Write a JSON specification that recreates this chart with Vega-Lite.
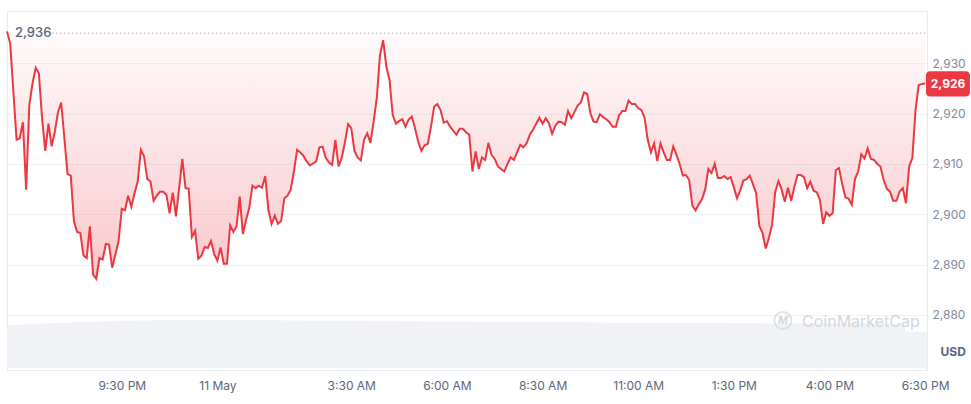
{
"$schema": "https://vega.github.io/schema/vega-lite/v6.json",
"width": 920, "height": 359,
"autosize": {"type": "none"},
"padding": {"left": 7, "top": 11, "right": 44, "bottom": 34},
"background": "white",
"config": {"view": {"stroke": "#e6e9ee"}, "font": "Inter"},
"datasets": {
"one": [{}],
"vol": [
{"t":"2024-05-10T18:30","v":10.75},{"t":"2024-05-10T19:30","v":11.2},{"t":"2024-05-10T20:30","v":11.6},{"t":"2024-05-10T21:30","v":11.9},{"t":"2024-05-10T22:30","v":12.0},{"t":"2024-05-10T23:30","v":12.0},{"t":"2024-05-11T00:30","v":12.0},{"t":"2024-05-11T01:30","v":12.0},{"t":"2024-05-11T02:30","v":11.9},{"t":"2024-05-11T03:30","v":11.9},{"t":"2024-05-11T04:30","v":11.8},{"t":"2024-05-11T05:30","v":11.7},{"t":"2024-05-11T06:30","v":11.7},{"t":"2024-05-11T07:30","v":11.6},{"t":"2024-05-11T08:30","v":11.6},{"t":"2024-05-11T09:30","v":11.5},{"t":"2024-05-11T10:30","v":11.4},{"t":"2024-05-11T11:30","v":11.4},{"t":"2024-05-11T12:30","v":11.4},{"t":"2024-05-11T13:30","v":11.3},{"t":"2024-05-11T14:30","v":11.2},{"t":"2024-05-11T15:30","v":11.2},{"t":"2024-05-11T16:30","v":11.2},{"t":"2024-05-11T17:30","v":11.2},{"t":"2024-05-11T17:55","v":11.2},{"t":"2024-05-11T18:00","v":9.15},{"t":"2024-05-11T18:33","v":9.15}
],
"price": [
{"t":"2024-05-10T18:30","p":2936.3},{"t":"2024-05-10T18:35","p":2934.0},{"t":"2024-05-10T18:40","p":2924.4},{"t":"2024-05-10T18:45","p":2914.8},{"t":"2024-05-10T18:50","p":2915.1},{"t":"2024-05-10T18:55","p":2918.3},
{"t":"2024-05-10T19:00","p":2904.9},{"t":"2024-05-10T19:05","p":2921.7},{"t":"2024-05-10T19:10","p":2926.0},{"t":"2024-05-10T19:15","p":2929.1},{"t":"2024-05-10T19:20","p":2928.0},{"t":"2024-05-10T19:25","p":2919.1},{"t":"2024-05-10T19:30","p":2912.6},{"t":"2024-05-10T19:35","p":2918.0},{"t":"2024-05-10T19:40","p":2913.5},{"t":"2024-05-10T19:45","p":2916.4},{"t":"2024-05-10T19:50","p":2920.3},{"t":"2024-05-10T19:55","p":2922.2},
{"t":"2024-05-10T20:00","p":2915.1},{"t":"2024-05-10T20:05","p":2908.0},{"t":"2024-05-10T20:10","p":2907.7},{"t":"2024-05-10T20:15","p":2898.6},{"t":"2024-05-10T20:20","p":2896.5},{"t":"2024-05-10T20:25","p":2896.3},{"t":"2024-05-10T20:30","p":2891.8},{"t":"2024-05-10T20:35","p":2891.3},{"t":"2024-05-10T20:40","p":2897.6},{"t":"2024-05-10T20:45","p":2888.0},{"t":"2024-05-10T20:50","p":2887.2},{"t":"2024-05-10T20:55","p":2891.3},
{"t":"2024-05-10T21:00","p":2891.0},{"t":"2024-05-10T21:05","p":2894.1},{"t":"2024-05-10T21:10","p":2894.0},{"t":"2024-05-10T21:15","p":2889.4},{"t":"2024-05-10T21:20","p":2892.0},{"t":"2024-05-10T21:25","p":2894.7},{"t":"2024-05-10T21:30","p":2901.1},{"t":"2024-05-10T21:35","p":2900.8},{"t":"2024-05-10T21:40","p":2903.7},{"t":"2024-05-10T21:45","p":2901.5},{"t":"2024-05-10T21:50","p":2904.2},{"t":"2024-05-10T21:55","p":2906.5},
{"t":"2024-05-10T22:00","p":2912.8},{"t":"2024-05-10T22:05","p":2911.5},{"t":"2024-05-10T22:10","p":2907.0},{"t":"2024-05-10T22:15","p":2906.5},{"t":"2024-05-10T22:20","p":2902.7},{"t":"2024-05-10T22:25","p":2903.7},{"t":"2024-05-10T22:30","p":2904.5},{"t":"2024-05-10T22:35","p":2904.5},{"t":"2024-05-10T22:40","p":2903.9},{"t":"2024-05-10T22:45","p":2900.2},{"t":"2024-05-10T22:50","p":2904.3},{"t":"2024-05-10T22:55","p":2899.6},
{"t":"2024-05-10T23:00","p":2905.2},{"t":"2024-05-10T23:05","p":2911.0},{"t":"2024-05-10T23:10","p":2905.2},{"t":"2024-05-10T23:15","p":2905.1},{"t":"2024-05-10T23:20","p":2895.5},{"t":"2024-05-10T23:25","p":2896.7},{"t":"2024-05-10T23:30","p":2891.2},{"t":"2024-05-10T23:35","p":2891.8},{"t":"2024-05-10T23:40","p":2893.5},{"t":"2024-05-10T23:45","p":2893.3},{"t":"2024-05-10T23:50","p":2894.7},{"t":"2024-05-10T23:55","p":2892.1},
{"t":"2024-05-11T00:00","p":2890.8},{"t":"2024-05-11T00:05","p":2893.4},{"t":"2024-05-11T00:10","p":2890.2},{"t":"2024-05-11T00:15","p":2890.2},{"t":"2024-05-11T00:20","p":2897.8},{"t":"2024-05-11T00:25","p":2896.5},{"t":"2024-05-11T00:30","p":2897.6},{"t":"2024-05-11T00:35","p":2903.5},{"t":"2024-05-11T00:40","p":2896.1},{"t":"2024-05-11T00:45","p":2898.9},{"t":"2024-05-11T00:50","p":2901.3},{"t":"2024-05-11T00:55","p":2905.7},
{"t":"2024-05-11T01:00","p":2905.2},{"t":"2024-05-11T01:05","p":2905.7},{"t":"2024-05-11T01:10","p":2905.3},{"t":"2024-05-11T01:15","p":2907.6},{"t":"2024-05-11T01:20","p":2900.9},{"t":"2024-05-11T01:25","p":2898.1},{"t":"2024-05-11T01:30","p":2899.7},{"t":"2024-05-11T01:35","p":2898.1},{"t":"2024-05-11T01:40","p":2898.7},{"t":"2024-05-11T01:45","p":2903.2},{"t":"2024-05-11T01:50","p":2903.7},{"t":"2024-05-11T01:55","p":2904.9},
{"t":"2024-05-11T02:00","p":2908.5},{"t":"2024-05-11T02:05","p":2912.8},{"t":"2024-05-11T02:10","p":2912.3},{"t":"2024-05-11T02:15","p":2911.6},{"t":"2024-05-11T02:20","p":2910.5},{"t":"2024-05-11T02:25","p":2909.7},{"t":"2024-05-11T02:35","p":2910.5},{"t":"2024-05-11T02:40","p":2913.3},{"t":"2024-05-11T02:45","p":2913.4},{"t":"2024-05-11T02:50","p":2911.2},{"t":"2024-05-11T02:55","p":2910.3},
{"t":"2024-05-11T03:00","p":2909.8},{"t":"2024-05-11T03:05","p":2914.8},{"t":"2024-05-11T03:10","p":2909.5},{"t":"2024-05-11T03:15","p":2911.2},{"t":"2024-05-11T03:20","p":2914.3},{"t":"2024-05-11T03:25","p":2917.9},{"t":"2024-05-11T03:30","p":2917.1},{"t":"2024-05-11T03:35","p":2912.6},{"t":"2024-05-11T03:40","p":2911.3},{"t":"2024-05-11T03:45","p":2910.7},{"t":"2024-05-11T03:50","p":2914.8},{"t":"2024-05-11T03:55","p":2916.1},
{"t":"2024-05-11T04:00","p":2914.2},{"t":"2024-05-11T04:05","p":2918.4},{"t":"2024-05-11T04:10","p":2923.1},{"t":"2024-05-11T04:15","p":2931.6},{"t":"2024-05-11T04:20","p":2934.6},{"t":"2024-05-11T04:25","p":2929.3},{"t":"2024-05-11T04:30","p":2926.7},{"t":"2024-05-11T04:35","p":2919.7},{"t":"2024-05-11T04:40","p":2918.0},{"t":"2024-05-11T04:45","p":2918.5},{"t":"2024-05-11T04:50","p":2918.9},{"t":"2024-05-11T04:55","p":2917.4},
{"t":"2024-05-11T05:00","p":2918.8},{"t":"2024-05-11T05:05","p":2919.4},{"t":"2024-05-11T05:10","p":2917.1},{"t":"2024-05-11T05:15","p":2914.4},{"t":"2024-05-11T05:20","p":2912.6},{"t":"2024-05-11T05:25","p":2913.7},{"t":"2024-05-11T05:30","p":2914.0},{"t":"2024-05-11T05:35","p":2917.4},{"t":"2024-05-11T05:40","p":2921.4},{"t":"2024-05-11T05:45","p":2921.9},{"t":"2024-05-11T05:50","p":2920.7},{"t":"2024-05-11T05:55","p":2918.2},
{"t":"2024-05-11T06:00","p":2918.5},{"t":"2024-05-11T06:05","p":2917.4},{"t":"2024-05-11T06:10","p":2916.6},{"t":"2024-05-11T06:15","p":2915.8},{"t":"2024-05-11T06:20","p":2917.0},{"t":"2024-05-11T06:25","p":2917.0},{"t":"2024-05-11T06:30","p":2916.3},{"t":"2024-05-11T06:35","p":2915.8},{"t":"2024-05-11T06:40","p":2908.5},{"t":"2024-05-11T06:45","p":2912.5},{"t":"2024-05-11T06:50","p":2909.0},{"t":"2024-05-11T06:55","p":2911.3},
{"t":"2024-05-11T07:00","p":2910.8},{"t":"2024-05-11T07:05","p":2914.2},{"t":"2024-05-11T07:10","p":2911.8},{"t":"2024-05-11T07:15","p":2911.0},{"t":"2024-05-11T07:20","p":2909.5},{"t":"2024-05-11T07:25","p":2909.0},{"t":"2024-05-11T07:30","p":2908.5},{"t":"2024-05-11T07:35","p":2910.0},{"t":"2024-05-11T07:40","p":2911.3},{"t":"2024-05-11T07:45","p":2910.8},{"t":"2024-05-11T07:50","p":2912.3},{"t":"2024-05-11T07:55","p":2913.8},
{"t":"2024-05-11T08:00","p":2913.3},{"t":"2024-05-11T08:05","p":2914.1},{"t":"2024-05-11T08:10","p":2915.8},{"t":"2024-05-11T08:15","p":2916.8},{"t":"2024-05-11T08:20","p":2918.0},{"t":"2024-05-11T08:25","p":2919.2},{"t":"2024-05-11T08:30","p":2918.0},{"t":"2024-05-11T08:35","p":2919.1},{"t":"2024-05-11T08:40","p":2918.1},{"t":"2024-05-11T08:45","p":2916.0},{"t":"2024-05-11T08:50","p":2917.6},{"t":"2024-05-11T08:55","p":2918.4},
{"t":"2024-05-11T09:00","p":2918.3},{"t":"2024-05-11T09:05","p":2917.8},{"t":"2024-05-11T09:10","p":2920.5},{"t":"2024-05-11T09:15","p":2919.1},{"t":"2024-05-11T09:20","p":2920.3},{"t":"2024-05-11T09:25","p":2921.6},{"t":"2024-05-11T09:30","p":2922.2},{"t":"2024-05-11T09:35","p":2924.2},{"t":"2024-05-11T09:40","p":2923.9},{"t":"2024-05-11T09:45","p":2920.1},{"t":"2024-05-11T09:50","p":2918.4},{"t":"2024-05-11T09:55","p":2918.3},
{"t":"2024-05-11T10:00","p":2919.9},{"t":"2024-05-11T10:05","p":2919.3},{"t":"2024-05-11T10:10","p":2918.9},{"t":"2024-05-11T10:15","p":2918.3},{"t":"2024-05-11T10:20","p":2917.4},{"t":"2024-05-11T10:25","p":2917.4},{"t":"2024-05-11T10:30","p":2919.7},{"t":"2024-05-11T10:35","p":2920.5},{"t":"2024-05-11T10:40","p":2920.5},{"t":"2024-05-11T10:45","p":2922.6},{"t":"2024-05-11T10:50","p":2921.9},{"t":"2024-05-11T10:55","p":2921.9},
{"t":"2024-05-11T11:00","p":2921.1},{"t":"2024-05-11T11:05","p":2920.7},{"t":"2024-05-11T11:10","p":2919.2},{"t":"2024-05-11T11:15","p":2914.8},{"t":"2024-05-11T11:20","p":2912.3},{"t":"2024-05-11T11:25","p":2914.1},{"t":"2024-05-11T11:30","p":2910.6},{"t":"2024-05-11T11:35","p":2914.1},{"t":"2024-05-11T11:40","p":2912.3},{"t":"2024-05-11T11:45","p":2910.8},{"t":"2024-05-11T11:50","p":2910.8},{"t":"2024-05-11T11:55","p":2913.5},
{"t":"2024-05-11T12:00","p":2911.8},{"t":"2024-05-11T12:05","p":2910.0},{"t":"2024-05-11T12:10","p":2907.7},{"t":"2024-05-11T12:15","p":2907.8},{"t":"2024-05-11T12:20","p":2906.8},{"t":"2024-05-11T12:25","p":2901.7},{"t":"2024-05-11T12:30","p":2900.8},{"t":"2024-05-11T12:35","p":2902.0},{"t":"2024-05-11T12:40","p":2903.0},{"t":"2024-05-11T12:45","p":2904.9},{"t":"2024-05-11T12:50","p":2909.0},{"t":"2024-05-11T12:55","p":2908.2},
{"t":"2024-05-11T13:00","p":2910.0},{"t":"2024-05-11T13:05","p":2907.2},{"t":"2024-05-11T13:10","p":2907.2},{"t":"2024-05-11T13:15","p":2907.6},{"t":"2024-05-11T13:20","p":2907.0},{"t":"2024-05-11T13:25","p":2907.4},{"t":"2024-05-11T13:30","p":2905.4},{"t":"2024-05-11T13:35","p":2903.2},{"t":"2024-05-11T13:40","p":2904.7},{"t":"2024-05-11T13:45","p":2906.7},{"t":"2024-05-11T13:50","p":2907.0},{"t":"2024-05-11T13:55","p":2907.7},
{"t":"2024-05-11T14:00","p":2906.0},{"t":"2024-05-11T14:05","p":2904.2},{"t":"2024-05-11T14:10","p":2897.7},{"t":"2024-05-11T14:15","p":2896.3},{"t":"2024-05-11T14:20","p":2893.2},{"t":"2024-05-11T14:25","p":2895.3},{"t":"2024-05-11T14:30","p":2897.9},{"t":"2024-05-11T14:35","p":2904.5},{"t":"2024-05-11T14:40","p":2906.6},{"t":"2024-05-11T14:45","p":2904.9},{"t":"2024-05-11T14:50","p":2902.5},{"t":"2024-05-11T14:55","p":2905.3},
{"t":"2024-05-11T15:00","p":2902.7},{"t":"2024-05-11T15:05","p":2905.5},{"t":"2024-05-11T15:10","p":2907.8},{"t":"2024-05-11T15:15","p":2907.8},{"t":"2024-05-11T15:20","p":2907.4},{"t":"2024-05-11T15:25","p":2905.2},{"t":"2024-05-11T15:30","p":2906.5},{"t":"2024-05-11T15:35","p":2904.7},{"t":"2024-05-11T15:40","p":2904.4},{"t":"2024-05-11T15:45","p":2902.9},{"t":"2024-05-11T15:50","p":2898.1},{"t":"2024-05-11T15:55","p":2900.4},
{"t":"2024-05-11T16:00","p":2899.7},{"t":"2024-05-11T16:05","p":2900.2},{"t":"2024-05-11T16:10","p":2908.8},{"t":"2024-05-11T16:15","p":2909.2},{"t":"2024-05-11T16:20","p":2906.0},{"t":"2024-05-11T16:25","p":2903.4},{"t":"2024-05-11T16:30","p":2903.1},{"t":"2024-05-11T16:35","p":2901.9},{"t":"2024-05-11T16:40","p":2907.0},{"t":"2024-05-11T16:45","p":2908.5},{"t":"2024-05-11T16:50","p":2911.9},{"t":"2024-05-11T16:55","p":2911.1},
{"t":"2024-05-11T17:00","p":2913.1},{"t":"2024-05-11T17:05","p":2911.0},{"t":"2024-05-11T17:10","p":2910.8},{"t":"2024-05-11T17:15","p":2910.0},{"t":"2024-05-11T17:20","p":2909.5},{"t":"2024-05-11T17:25","p":2906.8},{"t":"2024-05-11T17:30","p":2905.1},{"t":"2024-05-11T17:35","p":2904.5},{"t":"2024-05-11T17:40","p":2902.7},{"t":"2024-05-11T17:45","p":2902.7},{"t":"2024-05-11T17:50","p":2904.5},{"t":"2024-05-11T17:55","p":2905.2},
{"t":"2024-05-11T18:00","p":2902.2},{"t":"2024-05-11T18:05","p":2909.5},{"t":"2024-05-11T18:10","p":2911.2},{"t":"2024-05-11T18:15","p":2920.7},{"t":"2024-05-11T18:20","p":2925.7},{"t":"2024-05-11T18:25","p":2925.9},{"t":"2024-05-11T18:30","p":2926.0}
]
},
"layer": [
{
"data": {"name": "vol"},
"mark": {"type": "area", "color": "#f0f2f5", "interpolate": "linear"},
"encoding": {
"x": {"field": "t", "type": "temporal",
"scale": {"domain": [{"year":2024,"month":5,"date":10,"hours":18,"minutes":30},{"year":2024,"month":5,"date":11,"hours":18,"minutes":33}]},
"axis": {"title": null, "grid": false, "ticks": false, "domain": false, "labelPadding": 10, "labelFontSize": 12, "labelColor": "#58667e", "labelOverlap": false, "labelFlush": false, "labelBound": false, "labelBaseline": "top",
"values": [{"year":2024,"month":5,"date":10,"hours":21,"minutes":30},{"year":2024,"month":5,"date":11,"hours":0,"minutes":0},{"year":2024,"month":5,"date":11,"hours":3,"minutes":30},{"year":2024,"month":5,"date":11,"hours":6,"minutes":0},{"year":2024,"month":5,"date":11,"hours":8,"minutes":30},{"year":2024,"month":5,"date":11,"hours":11,"minutes":0},{"year":2024,"month":5,"date":11,"hours":13,"minutes":30},{"year":2024,"month":5,"date":11,"hours":16,"minutes":0},{"year":2024,"month":5,"date":11,"hours":18,"minutes":30}],
"labelExpr": "hours(datum.value) == 0 && minutes(datum.value) == 0 ? timeFormat(datum.value, '%-d %b') : timeFormat(datum.value, '%-I:%M %p')"}},
"y": {"field": "v", "type": "quantitative", "scale": {"domain": [-0.425, 89.325], "nice": false, "zero": false}, "axis": null},
"y2": {"datum": 0}
}
},
{
"layer": [
{
"data": {"name": "price"},
"mark": {"type": "area", "color": {"gradient": "linear", "x1": 0, "y1": 0, "x2": 0, "y2": 1, "stops": [{"offset": 0, "color": "rgba(234,57,67,0.02)"}, {"offset": 1, "color": "rgba(234,57,67,0.28)"}]}},
"encoding": {
"x": {"field": "t", "type": "temporal"},
"y": {"field": "p", "type": "quantitative", "scale": {"domain": [2869.07, 2940.39], "nice": false, "zero": false},
"axis": {"orient": "right", "values": [2880, 2890, 2900, 2910, 2920, 2930], "format": ",.0f", "grid": true, "gridColor": "#eff2f5", "ticks": false, "domain": false, "labelPadding": 5, "labelFontSize": 12, "labelColor": "#808a9d", "labelAlign": "left", "labelBaseline": "middle",
"title": "USD", "titleAngle": 0, "titleX": 13, "titleY": 340, "titleAlign": "left", "titleBaseline": "middle", "titleFontSize": 12, "titleFontWeight": "bold", "titleColor": "#58667e"}},
"y2": {"datum": 2936}
}
},
{
"data": {"name": "price"},
"mark": {"type": "line", "color": "#ea3943", "strokeWidth": 2},
"encoding": {
"x": {"field": "t", "type": "temporal"},
"y": {"field": "p", "type": "quantitative"}
}
},
{
"data": {"name": "one"},
"mark": {"type": "rule", "color": "#8a94a6", "strokeDash": [1, 3], "strokeWidth": 1},
"encoding": {
"x": {"datum": {"year":2024,"month":5,"date":10,"hours":19,"minutes":41}, "type": "temporal"},
"x2": {"datum": {"year":2024,"month":5,"date":11,"hours":18,"minutes":33}},
"y": {"datum": 2936, "type": "quantitative"}
}
},
{
"data": {"name": "one"},
"mark": {"type": "text", "color": "#58667e", "fontSize": 13, "fontWeight": 500, "align": "left", "baseline": "middle", "dx": 8},
"encoding": {
"x": {"datum": {"year":2024,"month":5,"date":10,"hours":18,"minutes":30}, "type": "temporal"},
"y": {"datum": 2936, "type": "quantitative"},
"text": {"value": "2,936"}
}
},
{
"data": {"name": "one"},
"mark": {"type": "rect", "color": "#ea3943", "cornerRadius": 4},
"encoding": {
"x": {"datum": {"year":2024,"month":5,"date":11,"hours":18,"minutes":31,"seconds":18}, "type": "temporal"},
"x2": {"datum": {"year":2024,"month":5,"date":11,"hours":19,"minutes":40,"seconds":24}},
"y": {"datum": 2928.4, "type": "quantitative"},
"y2": {"datum": 2923.4}
}
},
{
"data": {"name": "one"},
"mark": {"type": "text", "color": "white", "fontSize": 12, "fontWeight": "bold", "align": "center", "baseline": "middle"},
"encoding": {
"x": {"datum": {"year":2024,"month":5,"date":11,"hours":19,"minutes":6}, "type": "temporal"},
"y": {"datum": 2925.9, "type": "quantitative"},
"text": {"value": "2,926"}
}
},
{
"data": {"name": "one"},
"mark": {"type": "point", "shape": "circle", "filled": false, "color": "#d3d7de", "strokeWidth": 2, "size": 290},
"encoding": {
"x": {"datum": {"year":2024,"month":5,"date":11,"hours":14,"minutes":47}, "type": "temporal"},
"y": {"datum": 2878.9, "type": "quantitative"}
}
},
{
"data": {"name": "one"},
"mark": {"type": "text", "color": "#d3d7de", "fontSize": 11, "fontWeight": "bold", "fontStyle": "italic", "align": "center", "baseline": "middle"},
"encoding": {
"x": {"datum": {"year":2024,"month":5,"date":11,"hours":14,"minutes":47}, "type": "temporal"},
"y": {"datum": 2878.9, "type": "quantitative"},
"text": {"value": "M"}
}
},
{
"data": {"name": "one"},
"mark": {"type": "text", "color": "#d3d7de", "fontSize": 16, "align": "left", "baseline": "middle"},
"encoding": {
"x": {"datum": {"year":2024,"month":5,"date":11,"hours":15,"minutes":17}, "type": "temporal"},
"y": {"datum": 2878.7, "type": "quantitative"},
"text": {"value": "CoinMarketCap"}
}
}
]
}
],
"resolve": {"scale": {"y": "independent"}}
}
